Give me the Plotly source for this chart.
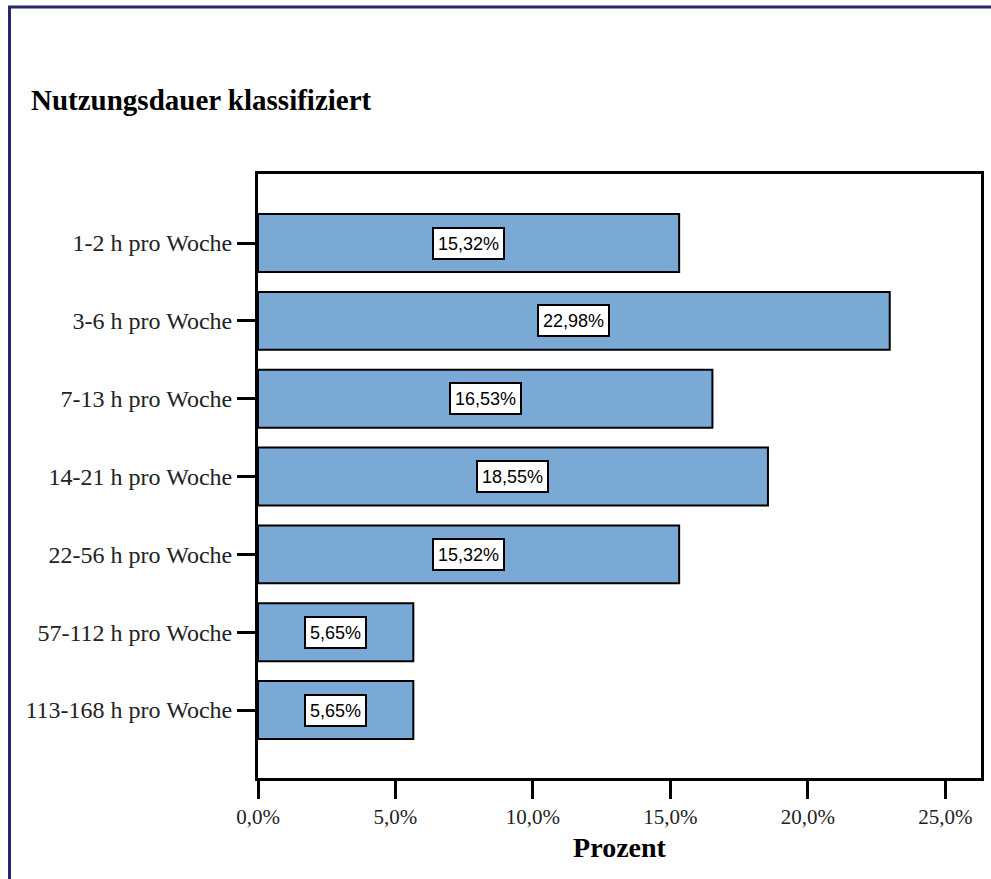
import plotly.graph_objects as go

# Usage duration classes and their share of respondents (percent)
categories = [
    "1-2 h pro Woche",
    "3-6 h pro Woche",
    "7-13 h pro Woche",
    "14-21 h pro Woche",
    "22-56 h pro Woche",
    "57-112 h pro Woche",
    "113-168 h pro Woche",
]
percent = [15.32, 22.98, 16.53, 18.55, 15.32, 5.65, 5.65]

x_tick_values = [0, 5, 10, 15, 20, 25]
x_tick_labels = ["0,0%", "5,0%", "10,0%", "15,0%", "20,0%", "25,0%"]

SERIF = "Liberation Serif, Times New Roman, serif"
SANS = "Liberation Sans, Arial, sans-serif"
BAR_COLOR = "rgb(122,169,214)"
FRAME_COLOR = "rgb(37,37,112)"

W, H = 991, 879
L, R, T, B = 258, 10, 174, 101
plot_w = W - L - R
plot_h = H - T - B


def px_x(px):
    """Pixel column -> paper x."""
    return (px - L) / plot_w


def px_y(py):
    """Pixel row -> paper y."""
    return (H - B - py) / plot_h


fig = go.Figure()

fig.add_trace(
    go.Bar(
        x=percent,
        y=categories,
        orientation="h",
        width=0.745,
        marker=dict(color=BAR_COLOR, line=dict(color="black", width=2)),
        hoverinfo="x+y",
    )
)

# Value labels in boxes, centred on each bar
for cat, val in zip(categories, percent):
    fig.add_annotation(
        x=val / 2,
        y=cat,
        xref="x",
        yref="y",
        text=f"{val:.2f}%".replace(".", ","),
        showarrow=False,
        font=dict(family=SANS, size=18, color="black"),
        bgcolor="white",
        bordercolor="black",
        borderwidth=2,
        borderpad=4,
        height=21,
    )

# Chart title
fig.add_annotation(
    x=px_x(29),
    y=px_y(100),
    xref="paper",
    yref="paper",
    xanchor="left",
    yanchor="middle",
    text="<b>Nutzungsdauer klassifiziert</b>",
    showarrow=False,
    font=dict(family=SERIF, size=29, color="black"),
)

# Outer frame (top and left edges)
fig.add_shape(
    type="line", xref="paper", yref="paper",
    x0=px_x(8), x1=px_x(W + 5), y0=px_y(7), y1=px_y(7),
    line=dict(color=FRAME_COLOR, width=3),
)
fig.add_shape(
    type="line", xref="paper", yref="paper",
    x0=px_x(9.5), x1=px_x(9.5), y0=px_y(6), y1=px_y(H + 5),
    line=dict(color=FRAME_COLOR, width=3),
)

fig.update_xaxes(
    range=[0, 26.3],
    tickvals=x_tick_values,
    ticktext=x_tick_labels,
    ticks="outside",
    ticklen=18,
    tickwidth=3,
    tickcolor="black",
    showline=True,
    linewidth=3,
    linecolor="black",
    mirror=True,
    showgrid=False,
    zeroline=False,
    tickfont=dict(family=SERIF, size=21, color="#222"),
    title=dict(
        text="<b>Prozent</b>",
        font=dict(family=SERIF, size=28, color="black"),
        standoff=10,
    ),
)

fig.update_yaxes(
    type="category",
    categoryorder="array",
    categoryarray=categories,
    range=[6.873, -0.887],
    ticks="outside",
    ticklen=18,
    tickwidth=3,
    tickcolor="black",
    showline=True,
    linewidth=3,
    linecolor="black",
    mirror=True,
    showgrid=False,
    zeroline=False,
    tickfont=dict(family=SERIF, size=24, color="#222"),
)

fig.update_layout(
    width=W,
    height=H,
    margin=dict(l=L, r=R, t=T, b=B, autoexpand=False),
    paper_bgcolor="white",
    plot_bgcolor="white",
    showlegend=False,
    bargap=0.2,
)

fig.write_html("out.html")
